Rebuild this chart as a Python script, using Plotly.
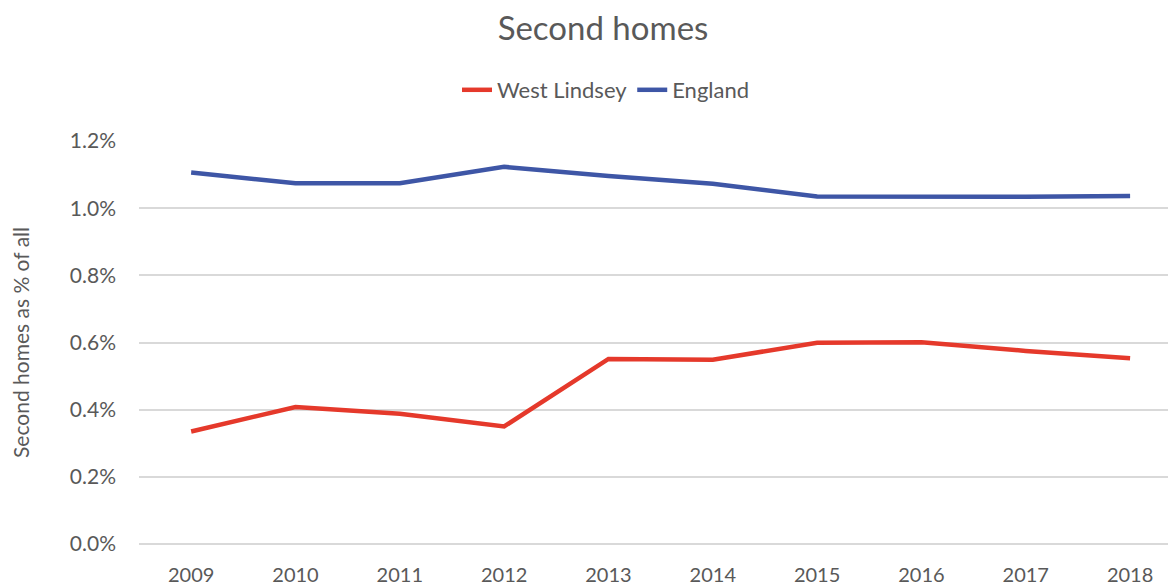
import plotly.graph_objects as go

years = ["2009", "2010", "2011", "2012", "2013", "2014", "2015", "2016", "2017", "2018"]
west_lindsey = [0.335, 0.408, 0.388, 0.350, 0.551, 0.549, 0.599, 0.601, 0.575, 0.553]
england = [1.106, 1.074, 1.074, 1.123, 1.096, 1.073, 1.035, 1.034, 1.034, 1.036]
y_ticks = [0.0, 0.2, 0.4, 0.6, 0.8, 1.0, 1.2]
y_tick_labels = [f"{v:.1f}%" for v in y_ticks]

FONT = "Lato"
GREY = "#595959"
W, H = 1176, 588
OFF = 8  # page body margin offset

fig = go.Figure()
fig.add_trace(go.Scatter(x=years, y=west_lindsey, mode="lines", name="West Lindsey",
                         line=dict(color="#E5392B", width=4.5)))
fig.add_trace(go.Scatter(x=years, y=england, mode="lines", name="England",
                         line=dict(color="#3E56A6", width=4.5)))

fig.update_layout(
    width=W, height=H,
    paper_bgcolor="white", plot_bgcolor="white",
    margin=dict(l=139 - OFF, r=OFF, t=141 - OFF, b=H - (544.5 - OFF)),
    font=dict(family=FONT, color=GREY, size=20),
    title=dict(text="Second homes", x=(603 - OFF) / W, xanchor="center",
               y=1 - (28 - OFF) / H, yanchor="middle",
               font=dict(size=33, color=GREY, family=FONT)),
    legend=dict(orientation="h", xref="container", yref="container",
                x=(606 - OFF) / W, xanchor="center",
                y=1 - (90 - OFF) / H, yanchor="middle",
                font=dict(size=22, color=GREY, family=FONT),
                bgcolor="rgba(0,0,0,0)"),
    showlegend=True,
)
fig.update_xaxes(type="category", range=[-0.5, 9.44], showgrid=False, showline=False,
                 ticks="", tickfont=dict(size=20, color=GREY), ticklabelstandoff=17)
fig.update_yaxes(range=[0, 1.2], tickvals=y_ticks, ticktext=y_tick_labels,
                 showgrid=True, gridcolor="#D9D9D9", gridwidth=1.5,
                 zeroline=True, zerolinecolor="#D9D9D9", zerolinewidth=1.5,
                 showline=False, ticks="", tickfont=dict(size=21, color=GREY),
                 ticklabelstandoff=22,
                 title=dict(text="Second homes as % of all", font=dict(size=21, color=GREY), standoff=35))

fig.write_html("out.html")
